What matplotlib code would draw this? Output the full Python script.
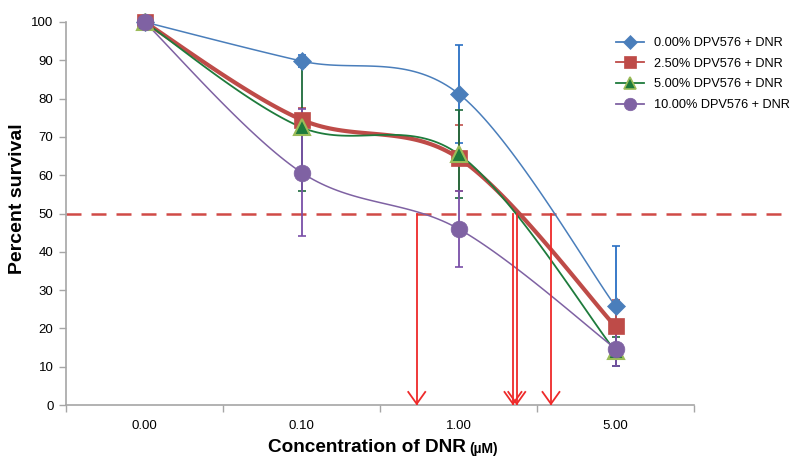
import numpy as np
import matplotlib
matplotlib.use("Agg")
import matplotlib.pyplot as plt

plt.rcParams['font.family'] = ['Liberation Sans', 'DejaVu Sans']

categories = ["0.00", "0.10", "1.00", "5.00"]
labels = ["0.00% DPV576 + DNR", "2.50% DPV576 + DNR", "5.00% DPV576 + DNR", "10.00% DPV576 + DNR"]
vals_0 = [100, 89.8, 81.3, 25.8]
vals_25 = [100, 74.5, 64.5, 20.5]
vals_5 = [100, 72.5, 65.5, 14.0]
vals_10 = [100, 60.7, 46.0, 14.7]
err_0 = [0, 1.5, 12.8, 15.7]
err_25 = [0, 3.0, 8.5, 7.0]
err_5 = [0, 16.5, 11.5, 3.7]
err_10 = [0, 16.7, 10.0, 4.4]
ic50_positions = [1.734, 2.347, 2.371, 2.589]
threshold = 50

colors = ["#4a7ebb", "#be4b48", "#1e7b3c", "#7f62a3"]
err_colors = ["#2a6fc4", "#c0504d", "#1e6b3c", "#7a4fa8"]
markers = ["D", "s", "^", "o"]
msizes = [9, 12, 12, 12]
lws = [1.1, 3.0, 1.3, 1.1]
medges = ["#4a7ebb", "#be4b48", "#9bbb59", "#7f62a3"]

series = [vals_0, vals_25, vals_5, vals_10]
errs = [err_0, err_25, err_5, err_10]


def smooth(xs, ys, n=40):
    P = np.column_stack([xs, ys]).astype(float)
    Pe = np.vstack([P[0], P, P[-1]])
    out = []
    for i in range(len(P) - 1):
        p0, p1, p2, p3 = Pe[i], Pe[i + 1], Pe[i + 2], Pe[i + 3]
        c1 = p1 + (p2 - p0) / 6.0
        c2 = p2 - (p3 - p1) / 6.0
        t = np.linspace(0, 1, n)[:, None]
        seg = (1 - t) ** 3 * p1 + 3 * (1 - t) ** 2 * t * c1 + 3 * (1 - t) * t ** 2 * c2 + t ** 3 * p2
        out.append(seg if i == 0 else seg[1:])
    s = np.vstack(out)
    return s[:, 0], s[:, 1]


fig = plt.figure(figsize=(7.97, 4.57), dpi=100)
ax = fig.add_axes([66 / 797, 1 - 405 / 457, (694 - 66) / 797, (405 - 22) / 457])
x = np.arange(len(categories))

handles = []
for i in range(4):
    ax.errorbar(x, series[i], yerr=errs[i], fmt='none', ecolor=err_colors[i],
                elinewidth=1.3, capsize=3, capthick=1.2, zorder=3, clip_on=False)
for i in range(4):
    sx, sy = smooth(x, series[i])
    ax.plot(sx, sy, color=colors[i], lw=lws[i], zorder=4, clip_on=False)
    ax.plot(x, series[i], linestyle='none', marker=markers[i], ms=msizes[i],
            mfc=colors[i], mec=medges[i], mew=1.5 if i == 2 else 0.5, zorder=5, clip_on=False)
    h, = ax.plot([], [], color=colors[i], lw=1.3, marker=markers[i],
                 ms=msizes[i] * 0.75, mfc=colors[i], mec=medges[i], mew=1.2 if i == 2 else 0.5)
    handles.append(h)

# threshold dashed line (extends beyond the axes)
ax.plot([-0.5, 4.1], [threshold, threshold], color="#d04a47", lw=1.8,
        dashes=(6, 4), zorder=2, clip_on=False)

# IC50 arrows
dx, dy = 0.054, 3.4
for px in ic50_positions:
    ax.plot([px, px], [threshold, 0], color="#ee2a2a", lw=1.3, zorder=6)
    ax.plot([px - dx, px, px + dx], [dy, 0.3, dy], color="#ee2a2a", lw=1.3, zorder=6,
            solid_joinstyle='miter')

ax.set_xlim(-0.5, 3.5)
ax.set_ylim(0, 100)
ax.set_yticks(np.arange(0, 101, 10))
ax.set_xticks([-0.5, 0.5, 1.5, 2.5, 3.5])
ax.set_xticklabels([])
ax.set_xticks(x, minor=True)
ax.set_xticklabels(categories, minor=True)
ax.tick_params(axis='x', which='minor', length=0, pad=11, labelsize=9.5)
ax.tick_params(axis='x', which='major', length=5, color='#a6a6a6', width=1)
ax.tick_params(axis='y', length=5, color='#a6a6a6', width=1, labelsize=9.5, pad=4)
for s in ['top', 'right']:
    ax.spines[s].set_visible(False)
for s in ['left', 'bottom']:
    ax.spines[s].set_color('#a6a6a6')
    ax.spines[s].set_linewidth(1.2)

fig.text(18 / 797, 1 - 199 / 457, "Percent survival", rotation=90, ha='center', va='center',
         fontsize=14, fontweight='bold')
fig.text(466 / 797, 1 - 448 / 457, "Concentration of DNR", ha='right', va='center',
         fontsize=13.7, fontweight='bold')
fig.text(469 / 797, 1 - 449 / 457, "(µM)", ha='left', va='center',
         fontsize=10, fontweight='bold')

fig.legend(handles, labels, loc='upper left', bbox_to_anchor=(611 / 797, 1 - 32 / 457),
           frameon=False, fontsize=9.2, handlelength=2.2, labelspacing=0.68,
           handletextpad=0.75, borderaxespad=0)

fig.savefig("out.png", dpi=100)
